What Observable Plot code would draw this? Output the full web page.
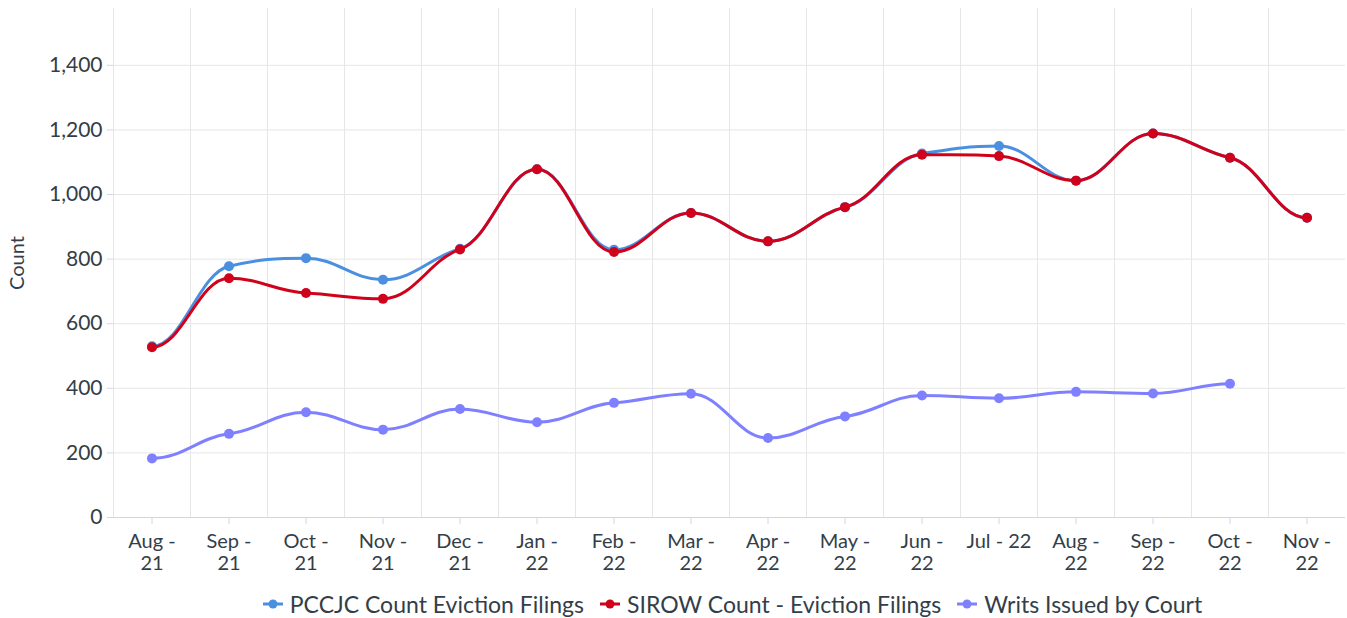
<!DOCTYPE html>
<html>
<head>
<meta charset="utf-8">
<script src="https://cdn.jsdelivr.net/npm/d3@7"></script>
<script src="https://cdn.jsdelivr.net/npm/@observablehq/plot@0.6"></script>
<style>
  html, body { margin: 0; padding: 0; background: #fff; }
  body { width: 1347px; height: 618px; overflow: hidden; font-family: Lato, "Open Sans", sans-serif; }
  #legend { display: flex; justify-content: center; align-items: center; gap: 16px; margin-top: 10px; font-size: 23px; color: #333e48; padding-left: 120px; padding-right: 2px; }
  .item { display: flex; align-items: center; gap: 7px; }
</style>
</head>
<body>
<div id="chart"></div>
<div id="legend"></div>
<script>
const categories = ["Aug-21","Sep-21","Oct-21","Nov-21","Dec-21","Jan-22","Feb-22","Mar-22","Apr-22","May-22","Jun-22","Jul-22","Aug-22","Sep-22","Oct-22","Nov-22"];
const xTickLabels = ["Aug -\n21","Sep -\n21","Oct -\n21","Nov -\n21","Dec -\n21","Jan -\n22","Feb -\n22","Mar -\n22","Apr -\n22","May -\n22","Jun -\n22","Jul - 22","Aug -\n22","Sep -\n22","Oct -\n22","Nov -\n22"];
const pccjc = [530, 778, 803, 736, 832, 1078, 829, 943, 855, 961, 1127, 1150, 1043, 1189, 1114, 928];
const sirow = [527, 741, 695, 677, 830, 1078, 822, 943, 855, 961, 1123, 1119, 1043, 1189, 1114, 928];
const writs = [183, 259, 326, 272, 336, 295, 355, 383, 246, 313, 378, 369, 389, 384, 414];
const yTicks = [0, 200, 400, 600, 800, 1000, 1200, 1400];
const seriesNames = ["PCCJC Count Eviction Filings", "SIROW Count - Eviction Filings", "Writs Issued by Court"];
const seriesColors = ["#4a8fe0", "#d0021b", "#7f80ff"];
const seriesValues = [pccjc, sirow, writs];

// Smooth curve: flat tangents at ends and extremes, damped tangents elsewhere
function SoftSpline(context) { this._context = context; }
SoftSpline.prototype = {
  areaStart() {}, areaEnd() {},
  lineStart() { this._xs = []; this._ys = []; },
  point(x, y) { this._xs.push(+x); this._ys.push(+y); },
  lineEnd() {
    const X = this._xs, Y = this._ys, n = X.length, c = this._context;
    if (!n) return;
    c.moveTo(X[0], Y[0]);
    const k = 0.4;
    const m = new Array(n).fill(0);
    for (let i = 1; i < n - 1; i++) {
      const a = Y[i] - Y[i-1], b = Y[i+1] - Y[i];
      if (a * b <= 0) { m[i] = 0; continue; }
      m[i] = k * (Y[i+1] - Y[i-1]) / (X[i+1] - X[i-1]);
    }
    for (let i = 1; i < n; i++) {
      const h = (X[i] - X[i-1]) / 2.5;
      c.bezierCurveTo(X[i-1] + h, Y[i-1] + m[i-1] * h, X[i] - h, Y[i] - m[i] * h, X[i], Y[i]);
    }
  }
};
const softSpline = (context) => new SoftSpline(context);

const W = 1347, H = 580, mL = 113, mR = 2, mT = 8, mB = 63;
const bw = (W - mL - mR) / categories.length;
const textColor = "#333e48";

const seriesMarks = [];
seriesNames.forEach((name, s) => {
  const rows = seriesValues[s].map((v, i) => ({cat: categories[i], value: v, series: name}));
  seriesMarks.push(Plot.line(rows, {x: "cat", y: "value", stroke: seriesColors[s], strokeWidth: 3, curve: softSpline}));
  seriesMarks.push(Plot.dot(rows, {x: "cat", y: "value", fill: seriesColors[s], r: 5, stroke: "none"}));
});

const chart = Plot.plot({
  width: W, height: H,
  marginLeft: mL, marginRight: mR, marginTop: mT, marginBottom: mB,
  style: {fontFamily: "Lato, sans-serif", fontSize: "20px", color: textColor, background: "#fff"},
  x: {type: "band", domain: categories, padding: 0, axis: null},
  y: {domain: [0, 1576], axis: null},
  marks: [
    Plot.ruleY(yTicks, {stroke: "#e6e6e6", strokeWidth: 1}),
    Plot.ruleX(categories, {x: d => d, dx: -bw/2, stroke: "#e6e6e6", strokeWidth: 1}),
    Plot.ruleY([0], {stroke: "#ccd6eb", strokeWidth: 1}),
    Plot.axisY({ticks: yTicks, tickFormat: d3.format(","), tickSize: 6, tickPadding: 5, stroke: "#ccd6eb", fill: textColor, fontSize: 21, label: null}),
    Plot.axisX({tickFormat: (d) => xTickLabels[categories.indexOf(d)], tickSize: 7, tickPadding: 8, stroke: "#ccd6eb", fill: textColor, fontSize: 20, lineHeight: 1.1, label: null}),
    Plot.text(["Count"], {frameAnchor: "left", dx: -96, rotate: -90, textAnchor: "middle", lineAnchor: "middle", fill: textColor, fontSize: 20}),
    ...seriesMarks
  ]
});
document.getElementById("chart").appendChild(chart);

const legend = document.getElementById("legend");
seriesNames.forEach((name, s) => {
  const item = document.createElement("div");
  item.className = "item";
  item.innerHTML = `<svg width="20" height="12"><line x1="0" y1="6" x2="20" y2="6" stroke="${seriesColors[s]}" stroke-width="3"/><circle cx="10" cy="6" r="4.5" fill="${seriesColors[s]}"/></svg><span>${name}</span>`;
  legend.appendChild(item);
});
</script>
</body>
</html>
